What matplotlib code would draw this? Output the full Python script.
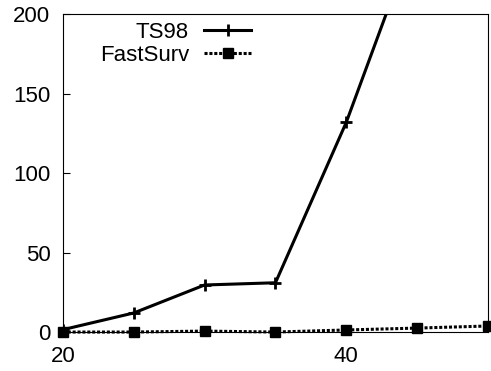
import matplotlib
matplotlib.use("Agg")
import matplotlib.pyplot as plt

plt.rcParams['font.family'] = ['Liberation Sans', 'DejaVu Sans']

sizes = [20, 25, 30, 35, 40, 45, 50]
ts98 = [1.5, 12, 29.6, 31, 132, 253, None]
fastsurv = [0, 0, 0.6, 0, 1.3, 2.5, 3.8]

fig = plt.figure(figsize=(4.91, 3.71), dpi=100)
ax = fig.add_axes([0.128, 0.105, 0.866, 0.857])

ts_x = [s for s, v in zip(sizes, ts98) if v is not None]
ts_y = [v for v in ts98 if v is not None]
ax.plot(ts_x, ts_y, color='black', lw=2.2, marker='+', ms=9, mew=2, label='TS98')
ax.plot(sizes, fastsurv, color='black', lw=2.2, ls=(0, (1, 0.6)), marker='s', ms=7.5,
        label='FastSurv', clip_on=False)

ax.set_xlim(20, 50)
ax.set_ylim(0, 200)
ax.set_xticks([20, 40])
ax.set_yticks([0, 50, 100, 150, 200])
ax.tick_params(direction='in', labelsize=16, length=5, width=0.8, top=False, right=False)
ax.tick_params(axis='y', pad=9)
ax.tick_params(axis='x', pad=10)
for sp in ax.spines.values():
    sp.set_linewidth(0.8)

ax.legend(loc='upper left', bbox_to_anchor=(0.05, 1.025), frameon=False, markerfirst=False,
          fontsize=16, handlelength=2.1, labelspacing=0.1, handletextpad=0.7,
          borderaxespad=0.3)

fig.savefig('out.png', dpi=100)
